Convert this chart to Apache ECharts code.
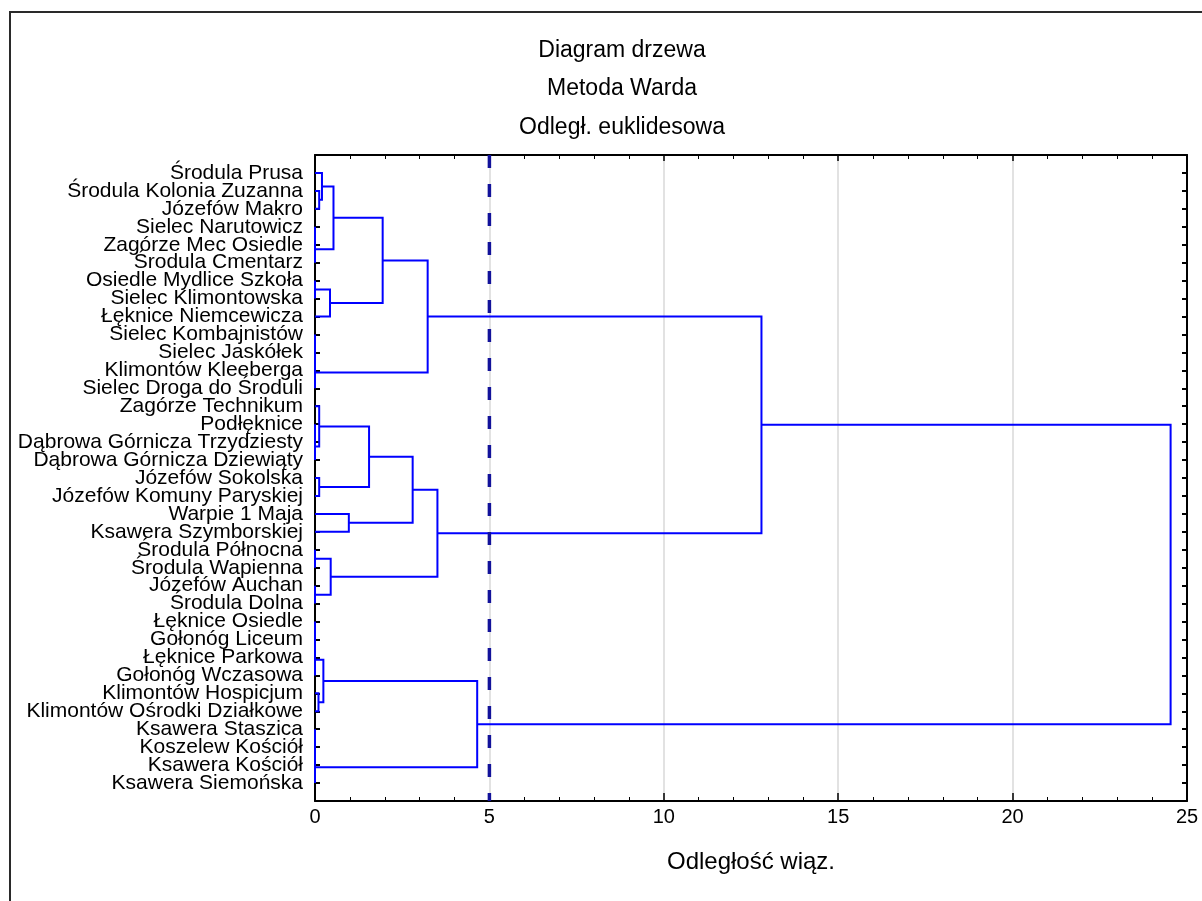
<!DOCTYPE html>
<html lang="pl">
<head>
<meta charset="UTF-8">
<title>Diagram drzewa</title>
<style>html,body{margin:0;padding:0;background:#fff}</style>
</head>
<body>
<div id="main" style="width:1202px;height:901px;"></div>
<script src="https://cdn.jsdelivr.net/npm/echarts@6/dist/echarts.min.js"></script>
<script>
    // leaves, top to bottom
    var leafNames = [
        'Środula Prusa', 'Środula Kolonia Zuzanna', 'Józefów Makro', 'Sielec Narutowicz',
        'Zagórze Mec Osiedle', 'Środula Cmentarz', 'Osiedle Mydlice Szkoła', 'Sielec Klimontowska',
        'Łęknice Niemcewicza', 'Sielec Kombajnistów', 'Sielec Jaskółek', 'Klimontów Kleeberga',
        'Sielec Droga do Środuli', 'Zagórze Technikum', 'Podłęknice', 'Dąbrowa Górnicza Trzydziesty',
        'Dąbrowa Górnicza Dziewiąty', 'Józefów Sokolska', 'Józefów Komuny Paryskiej', 'Warpie 1 Maja',
        'Ksawera Szymborskiej', 'Środula Północna', 'Środula Wapienna', 'Józefów Auchan',
        'Środula Dolna', 'Łęknice Osiedle', 'Gołonóg Liceum', 'Łęknice Parkowa',
        'Gołonóg Wczasowa', 'Klimontów Hospicjum', 'Klimontów Ośrodki Działkowe', 'Ksawera Staszica',
        'Koszelew Kościół', 'Ksawera Kościół', 'Ksawera Siemońska'
    ];

    // merges [childA, childB, linkage distance]
    // ids < 35 are leaves, id 35 + k is the cluster made by merge k
    var merges = [
        [1, 2, 0.12],     // 35
        [0, 35, 0.20],    // 36
        [3, 4, 0],        // 37
        [37, 5, 0],       // 38
        [36, 38, 0.53],   // 39
        [6, 7, 0],        // 40
        [40, 8, 0.43],    // 41
        [39, 41, 1.94],   // 42
        [9, 10, 0],       // 43
        [43, 11, 0],      // 44
        [44, 12, 0],      // 45
        [42, 45, 3.23],   // 46
        [14, 15, 0],      // 47
        [47, 16, 0],      // 48
        [13, 48, 0.12],   // 49
        [17, 18, 0.12],   // 50
        [49, 50, 1.55],   // 51
        [19, 20, 0.97],   // 52
        [51, 52, 2.80],   // 53
        [21, 22, 0],      // 54
        [23, 24, 0],      // 55
        [54, 55, 0.45],   // 56
        [53, 56, 3.51],   // 57
        [46, 57, 12.80],  // 58
        [25, 26, 0],      // 59
        [59, 27, 0],      // 60
        [60, 28, 0],      // 61
        [29, 30, 0.10],   // 62
        [61, 62, 0.24],   // 63
        [31, 32, 0],      // 64
        [64, 33, 0],      // 65
        [65, 34, 0],      // 66
        [63, 66, 4.65],   // 67
        [58, 67, 24.53]   // 68
    ];

    var distTicks = [0, 5, 10, 15, 20, 25];
    var cutLevel = 5;   // odcięcie

    var nLeaves = leafNames.length;
    var pos = [], hgt = [];
    for (var i = 0; i < nLeaves; i++) {
        pos[i] = i + 1;
        hgt[i] = 0;
    }
    // [h, yA, yB, hA, hB] for every link
    var links = merges.map(function (m, k) {
        var id = nLeaves + k;
        pos[id] = (pos[m[0]] + pos[m[1]]) / 2;
        hgt[id] = m[2];
        return [m[2], pos[m[0]], pos[m[1]], hgt[m[0]], hgt[m[1]]];
    });

    var myChart = echarts.init(document.getElementById('main'));
    var black = '#000';

    var option = {
        animation: false,
        backgroundColor: '#fff',
        textStyle: {fontFamily: 'Liberation Sans'},
        title: {
            text: 'Diagram drzewa\nMetoda Warda\nOdległ. euklidesowa',
            left: 622,
            top: 31,
            padding: 0,
            textAlign: 'center',
            textStyle: {fontSize: 23, fontWeight: 'normal', lineHeight: 38.5, color: black, fontFamily: 'Liberation Sans'}
        },
        graphic: [
            {
                type: 'rect', silent: true, z: -10,
                shape: {x: 10, y: 12, width: 1300, height: 1000},
                style: {fill: null, stroke: '#2a2a2a', lineWidth: 2}
            }
        ],
        grid: {left: 315, right: 15, top: 155, bottom: 100},
        xAxis: [
            {
                type: 'value', position: 'bottom',
                min: distTicks[0], max: distTicks[distTicks.length - 1], interval: distTicks[1] - distTicks[0],
                axisLine: {show: true, onZero: false, lineStyle: {color: black, width: 2}},
                axisTick: {show: true, inside: true, length: 8, lineStyle: {color: black, width: 1.5}},
                minorTick: {show: true, splitNumber: 5, length: 4, lineStyle: {color: black, width: 1}},
                axisLabel: {fontSize: 20, color: black, margin: 6},
                splitLine: {show: true, lineStyle: {color: '#d9d9d9', width: 1.5}},
                name: 'Odległość wiąz.',
                nameLocation: 'middle',
                nameGap: 49,
                nameTextStyle: {fontSize: 24, color: black}
            },
            {
                type: 'value', position: 'top',
                min: distTicks[0], max: distTicks[distTicks.length - 1], interval: distTicks[1] - distTicks[0],
                axisLine: {show: true, onZero: false, lineStyle: {color: black, width: 2}},
                axisTick: {show: true, inside: true, length: 6, lineStyle: {color: black, width: 1.5}},
                minorTick: {show: true, splitNumber: 5, length: 4, lineStyle: {color: black, width: 1}},
                axisLabel: {show: false},
                splitLine: {show: false}
            }
        ],
        yAxis: [
            {
                type: 'value', inverse: true, min: 0, max: nLeaves + 1, interval: 1,
                axisLine: {show: true, onZero: false, lineStyle: {color: black, width: 2}},
                axisTick: {show: true, inside: true, length: 5, lineStyle: {color: black, width: 2}},
                axisLabel: {
                    fontSize: 21, color: black, margin: 12,
                    formatter: function (v) { return leafNames[v - 1] || ''; }
                },
                splitLine: {show: false}
            },
            {
                type: 'value', position: 'right', inverse: true, min: 0, max: nLeaves + 1, interval: 1,
                axisLine: {show: true, onZero: false, lineStyle: {color: black, width: 2}},
                axisTick: {show: true, inside: true, length: 5, lineStyle: {color: black, width: 2}},
                axisLabel: {show: false},
                splitLine: {show: false}
            }
        ],
        series: [
            {
                type: 'custom',
                xAxisIndex: 0, yAxisIndex: 0,
                encode: {x: [0, 3, 4], y: [1, 2]},
                data: links,
                z: 3,
                renderItem: function (params, api) {
                    var h = api.value(0), ya = api.value(1), yb = api.value(2);
                    var ha = api.value(3), hb = api.value(4);
                    return {
                        type: 'polyline',
                        shape: {points: [api.coord([ha, ya]), api.coord([h, ya]), api.coord([h, yb]), api.coord([hb, yb])]},
                        style: {stroke: '#0000ff', lineWidth: 2, fill: null}
                    };
                }
            },
            {
                type: 'line',
                xAxisIndex: 0, yAxisIndex: 0,
                data: [[cutLevel, 0], [cutLevel, nLeaves + 1]],
                showSymbol: false,
                silent: true,
                z: 5,
                lineStyle: {color: '#12129a', width: 3.5, type: [13, 16]}
            }
        ]
    };
    myChart.setOption(option);
</script>
</body>
</html>
